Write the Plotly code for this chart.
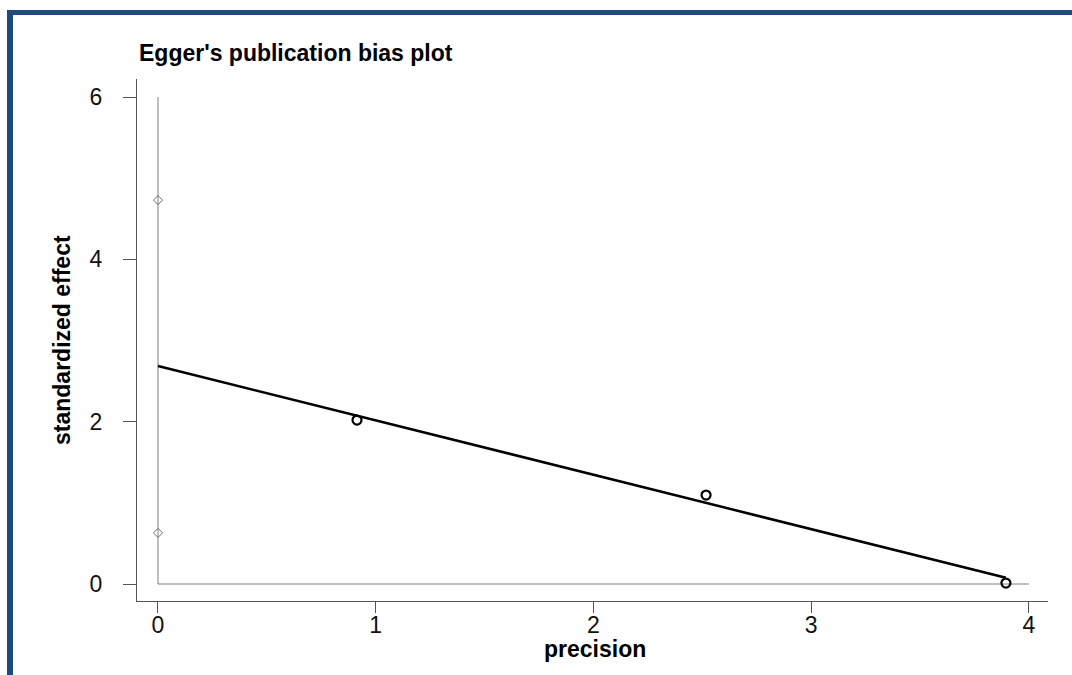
import plotly.graph_objects as go

# Data
precision = [0.914, 2.517, 3.894]
std_effect = [2.02, 1.096, 0.012]
intercept = 2.686
slope = -0.67
ci_low = 0.63
ci_high = 4.73
x_ticks = [0, 1, 2, 3, 4]
y_ticks = [0, 2, 4, 6]

W, H = 1072, 675
ml, mr, mt, mb = 137, 24, 79, 74
pw, ph = W - ml - mr, H - mt - mb

def px_x(p):
    return (p - ml) / pw

def px_y(p):
    return (H - mb - p) / ph

fig = go.Figure()

# reference lines at x=0 and y=0
fig.add_trace(go.Scatter(x=[0, 0], y=[0, 6], mode="lines",
                         line=dict(color="#7f7f7f", width=1), hoverinfo="skip", showlegend=False))
fig.add_trace(go.Scatter(x=[0, 4], y=[0, 0], mode="lines",
                         line=dict(color="#7f7f7f", width=1), hoverinfo="skip", showlegend=False))
# CI of intercept
fig.add_trace(go.Scatter(x=[0, 0], y=[ci_high, ci_low], mode="markers",
                         marker=dict(symbol="diamond-open", size=7, color="#6a6a6a", line=dict(width=1)),
                         showlegend=False))
# regression line
x_end = max(precision)
fig.add_trace(go.Scatter(x=[0, x_end], y=[intercept, intercept + slope * x_end], mode="lines",
                         line=dict(color="black", width=2.5), showlegend=False))
# study points
fig.add_trace(go.Scatter(x=precision, y=std_effect, mode="markers",
                         marker=dict(symbol="circle-open", size=9, color="black", line=dict(width=2.2)),
                         showlegend=False))

font_family = "Liberation Sans, Arial, sans-serif"

fig.update_layout(
    width=W, height=H,
    margin=dict(l=ml, r=mr, t=mt, b=mb),
    paper_bgcolor="white", plot_bgcolor="white",
    font=dict(family=font_family, size=23, color="black"),
    xaxis=dict(range=[-0.0964, 4.0873], tickvals=x_ticks, ticktext=[str(v) for v in x_ticks],
               showgrid=False, zeroline=False, showline=True, linecolor="#555555", linewidth=1,
               ticks="outside", ticklen=11, tickcolor="#555555",
               tickfont=dict(size=23, color="#111111"), ticklabelstandoff=-8),
    yaxis=dict(range=[-0.2094, 6.222], tickvals=y_ticks, ticktext=[str(v) for v in y_ticks],
               showgrid=False, zeroline=False, showline=True, linecolor="#555555", linewidth=1,
               ticks="outside", ticklen=13, tickcolor="#555555",
               tickfont=dict(size=23, color="#111111"), ticklabelstandoff=16),
    annotations=[
        dict(text="<b>Egger's publication bias plot</b>", xref="paper", yref="paper",
             x=px_x(137), y=px_y(53), xanchor="left", yanchor="middle",
             showarrow=False, font=dict(size=23, color="black")),
        dict(text="<b>precision</b>", xref="paper", yref="paper",
             x=px_x(595), y=px_y(649), xanchor="center", yanchor="middle",
             showarrow=False, font=dict(size=23, color="black")),
        dict(text="<b>standardized effect</b>", xref="paper", yref="paper",
             x=px_x(62), y=px_y(340), xanchor="center", yanchor="middle", textangle=-90,
             showarrow=False, font=dict(size=23, color="black")),
    ],
    shapes=[
        dict(type="rect", xref="paper", yref="paper", x0=px_x(7), x1=px_x(13), y0=px_y(680), y1=px_y(10),
             fillcolor="#1F4A7E", line=dict(width=0), layer="above"),
        dict(type="rect", xref="paper", yref="paper", x0=px_x(7), x1=px_x(1080), y0=px_y(15), y1=px_y(10),
             fillcolor="#1F4A7E", line=dict(width=0), layer="above"),
    ],
)

fig.write_html("out.html", config={"displayModeBar": False},
               post_script="document.body.style.margin='0';document.body.style.overflow='hidden';")
